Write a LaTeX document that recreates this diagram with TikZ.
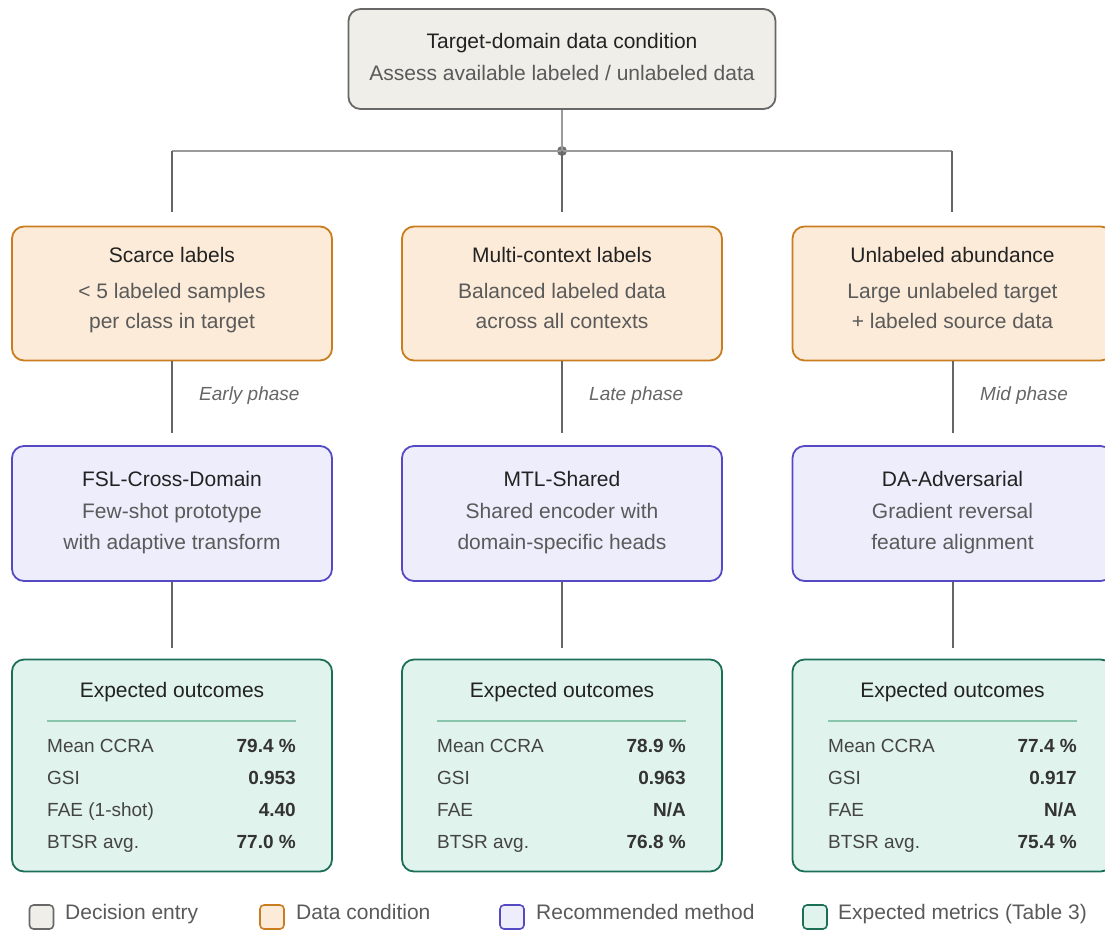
\documentclass[tikz,border=0pt]{standalone}
\usepackage{fontspec}
\setmainfont{Liberation Sans}
\usetikzlibrary{calc}
\definecolor{topFill}{HTML}{F0EEE8}
\definecolor{topDraw}{HTML}{686868}
\definecolor{orFill}{HTML}{FCEBD8}
\definecolor{orDraw}{HTML}{C97D1E}
\definecolor{puFill}{HTML}{EEEDFC}
\definecolor{puDraw}{HTML}{5649C4}
\definecolor{grFill}{HTML}{E0F3EC}
\definecolor{grDraw}{HTML}{1B6F56}
\definecolor{grSep}{HTML}{8CC5AE}
\definecolor{cDark}{HTML}{222222}
\definecolor{cSub}{HTML}{5A5A5A}
\definecolor{cLab}{HTML}{444444}
\definecolor{cVal}{HTML}{333333}
\definecolor{cPh}{HTML}{666666}
\definecolor{lnLight}{HTML}{9A9A9A}
\definecolor{lnDark}{HTML}{666666}
\tikzset{
  box/.style={rounded corners=12pt, line width=1.8pt, inner sep=0pt, minimum width=320pt},
  topbox/.style={box, draw=topDraw, fill=topFill, minimum width=427pt, minimum height=100pt},
  condbox/.style={box, draw=orDraw, fill=orFill, minimum height=134pt},
  methbox/.style={box, draw=puDraw, fill=puFill, minimum height=135pt},
  outbox/.style={box, draw=grDraw, fill=grFill, minimum height=212pt},
  ttl/.style={anchor=base, text=cDark, font=\fontsize{21}{25}\selectfont, inner sep=0pt},
  sub/.style={anchor=base, text=cSub, font=\fontsize{21}{25}\selectfont, inner sep=0pt},
  mlab/.style={anchor=base west, text=cLab, font=\fontsize{19}{23}\selectfont, inner sep=0pt},
  mval/.style={anchor=base east, text=cVal, font=\fontsize{19}{23}\selectfont\bfseries, inner sep=0pt},
  phase/.style={anchor=base west, text=cPh, font=\fontsize{19}{23}\selectfont\itshape, inner sep=0pt},
  lightln/.style={draw=lnLight, line width=2pt},
  darkln/.style={draw=lnDark, line width=2pt},
  sepln/.style={draw=grSep, line width=2pt},
  legsq/.style={rounded corners=4pt, line width=1.6pt, minimum width=24pt, minimum height=24pt, inner sep=0pt},
  legtxt/.style={anchor=base west, text=cSub, font=\fontsize{21}{25}\selectfont, inner sep=0pt}
}
\begin{document}
\begin{tikzpicture}[x=1pt,y=-1pt]
\useasboundingbox[fill=white] (0,0) rectangle (1105,930);

% top box
\node[topbox] (top) at (562,59) {};
\node[ttl] (topT) at (562,48) {Target-domain data condition};
\node[sub] (topS) at (562,80) {Assess available labeled / unlabeled data};

% hub
\coordinate (bL) at (172,151);
\coordinate (bR) at (952,151);
\node[circle, fill=lnDark!80!lnLight, inner sep=0pt, minimum size=10pt] (hub) at (562,151) {};
\coordinate (eL) at (172,212);
\coordinate (eM) at (562,212);
\coordinate (eR) at (952,212);
\draw[lightln] (top.south) -- (hub.center);
\draw[lightln] (bL) -- (bR);
\draw[darkln] (bL) -- (eL);
\draw[darkln] (hub.center) -- (eM);
\draw[darkln] (bR) -- (eR);

% row 2: data conditions
\node[condbox] (c1) at (172,293.5) {};
\node[condbox] (c2) at (562,293.5) {};
\node[condbox] (c3) at (952.5,293.5) {};
\node[ttl] at (172,262) {Scarce labels};
\node[sub] at (172,298) {< 5 labeled samples};
\node[sub] at (172,328) {per class in target};
\node[ttl] at (562,262) {Multi-context labels};
\node[sub] at (562,298) {Balanced labeled data};
\node[sub] at (562,328) {across all contexts};
\node[ttl] at (952.5,262) {Unlabeled abundance};
\node[sub] at (952.5,298) {Large unlabeled target};
\node[sub] at (952.5,328) {+ labeled source data};

% row 3: methods
\node[methbox] (m1) at (172,513.5) {};
\node[methbox] (m2) at (562,513.5) {};
\node[methbox] (m3) at (952.5,513.5) {};
\node[ttl] at (172,486) {FSL-Cross-Domain};
\node[sub] at (172,518) {Few-shot prototype};
\node[sub] at (172,549) {with adaptive transform};
\node[ttl] at (562,486) {MTL-Shared};
\node[sub] at (562,518) {Shared encoder with};
\node[sub] at (562,549) {domain-specific heads};
\node[ttl] at (952.5,486) {DA-Adversarial};
\node[sub] at (952.5,518) {Gradient reversal};
\node[sub] at (952.5,549) {feature alignment};

% connectors row2 -> row3
\coordinate (p1) at ($(m1.north)+(0,-12)$);
\coordinate (p2) at ($(m2.north)+(0,-12)$);
\coordinate (p3) at ($(m3.north)+(0,-12)$);
\draw[darkln] (c1.south) -- (p1);
\draw[darkln] (c2.south) -- (p2);
\draw[darkln] (c3.south) -- (p3);
\node[phase] at (199,400) {Early phase};
\node[phase] at (589,400) {Late phase};
\node[phase] at (980,400) {Mid phase};

% row 4: outcomes
\node[outbox] (o1) at (172,765.5) {};
\node[outbox] (o2) at (562,765.5) {};
\node[outbox] (o3) at (952.5,765.5) {};
\coordinate (q1) at ($(o1.north)+(0,-11)$);
\coordinate (q2) at ($(o2.north)+(0,-11)$);
\coordinate (q3) at ($(o3.north)+(0,-11)$);
\draw[darkln] (m1.south) -- (q1);
\draw[darkln] (m2.south) -- (q2);
\draw[darkln] (m3.south) -- (q3);

% outcome box 1
\node[ttl] at (172,697) {Expected outcomes};
\draw[sepln] (47,721) -- (296,721);
\node[mlab] at (47,752) {Mean CCRA};
\node[mval] at (296,752) {79.4 \%};
\node[mlab] at (47,784) {GSI};
\node[mval] at (296,784) {0.953};
\node[mlab] at (47,816) {FAE (1-shot)};
\node[mval] at (296,816) {4.40};
\node[mlab] at (47,848) {BTSR avg.};
\node[mval] at (296,848) {77.0 \%};
% outcome box 2
\node[ttl] at (562,697) {Expected outcomes};
\draw[sepln] (437,721) -- (686,721);
\node[mlab] at (437,752) {Mean CCRA};
\node[mval] at (686,752) {78.9 \%};
\node[mlab] at (437,784) {GSI};
\node[mval] at (686,784) {0.963};
\node[mlab] at (437,816) {FAE};
\node[mval] at (686,816) {N/A};
\node[mlab] at (437,848) {BTSR avg.};
\node[mval] at (686,848) {76.8 \%};
% outcome box 3
\node[ttl] at (952.5,697) {Expected outcomes};
\draw[sepln] (828,721) -- (1077,721);
\node[mlab] at (828,752) {Mean CCRA};
\node[mval] at (1077,752) {77.4 \%};
\node[mlab] at (828,784) {GSI};
\node[mval] at (1077,784) {0.917};
\node[mlab] at (828,816) {FAE};
\node[mval] at (1077,816) {N/A};
\node[mlab] at (828,848) {BTSR avg.};
\node[mval] at (1077,848) {75.4 \%};

% legend
\node[legsq, draw=topDraw, fill=topFill] (l1) at (41.5,917) {};
\node[legtxt] at (65,919) {Decision entry};
\node[legsq, draw=orDraw, fill=orFill] (l2) at (272,917) {};
\node[legtxt] at (296,919) {Data condition};
\node[legsq, draw=puDraw, fill=puFill] (l3) at (512,917) {};
\node[legtxt] at (536,919) {Recommended method};
\node[legsq, draw=grDraw, fill=grFill] (l4) at (815,917) {};
\node[legtxt] at (838,919) {Expected metrics (Table 3)};
\end{tikzpicture}
\end{document}
